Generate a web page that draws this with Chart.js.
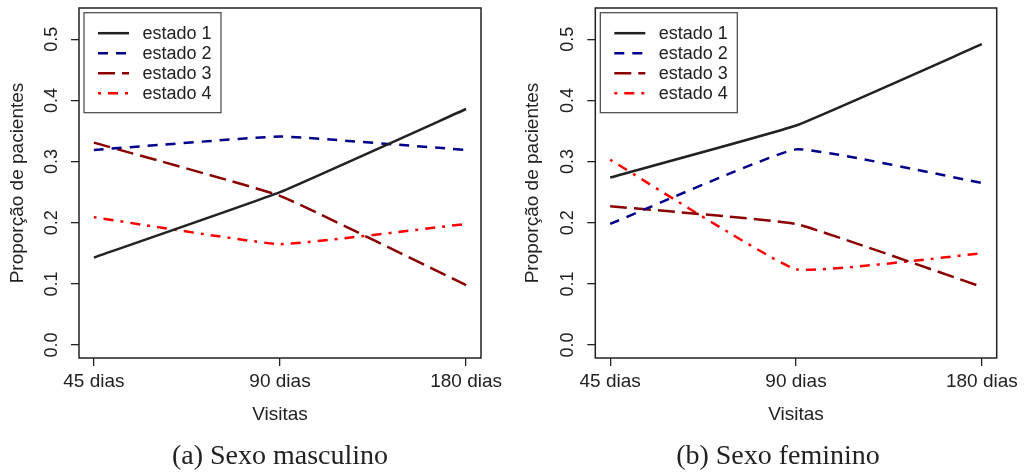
<!DOCTYPE html>
<html>
<head>
<meta charset="utf-8">
<script src="https://cdn.jsdelivr.net/npm/chart.js@4.4.1/dist/chart.umd.min.js"></script>
<style>
body { margin: 0; background: #fff; width: 1027px; height: 473px; overflow: hidden; position: relative; }
.panel { position: absolute; top: 0; height: 473px; }
#p1 { left: 0; width: 513px; }
#p2 { left: 513px; width: 514px; }
.cap { position: absolute; top: 441px; width: 400px; margin-left: -200px; text-align: center;
       font-family: "Liberation Serif", serif; font-size: 28px; line-height: 28px; color: #222; white-space: nowrap; }
</style>
</head>
<body>
<div class="panel" id="p1"><canvas id="chartMasc" width="513" height="473"></canvas></div>
<div class="panel" id="p2"><canvas id="chartFem" width="514" height="473"></canvas></div>
<div class="cap" style="left:280px">(a) Sexo masculino</div>
<div class="cap" style="left:778px">(b) Sexo feminino</div>
<script>
const visitas = ['45 dias', '90 dias', '180 dias'];
const estados = ['estado 1', 'estado 2', 'estado 3', 'estado 4'];
const yTicks = [0.0, 0.1, 0.2, 0.3, 0.4, 0.5];

// sexo masculino
const masc1 = [0.143, 0.250, 0.386];
const masc2 = [0.319, 0.341, 0.319];
const masc3 = [0.331, 0.244, 0.098];
const masc4 = [0.209, 0.165, 0.198];

// sexo feminino
const fem1 = [0.274, 0.359, 0.492];
const fem2 = [0.198, 0.320, 0.265];
const fem3 = [0.227, 0.198, 0.095];
const fem4 = [0.303, 0.124, 0.150];

const cores = ['#222222', '#00008B', '#8B0000', '#FF0000'];
const tracos = [[], [10, 8], [17, 7], [3, 7, 10, 7]];
const texto = '#222';
const fonte = { family: '"Liberation Sans", Arial, sans-serif', size: 19 };

const moldura = {
    id: 'moldura',
    afterDraw(chart) {
        const ctx = chart.ctx;
        const a = chart.chartArea;
        const y = chart.scales.y;
        ctx.save();
        ctx.strokeStyle = '#222';
        ctx.lineWidth = 1.5;
        ctx.strokeRect(a.left, a.top, a.right - a.left, a.bottom - a.top);

        // rótulos do eixo y, paralelos ao eixo como no R
        ctx.fillStyle = texto;
        ctx.font = '18px "Liberation Sans", Arial, sans-serif';
        ctx.textAlign = 'center';
        ctx.textBaseline = 'middle';
        yTicks.forEach(v => {
            ctx.save();
            ctx.translate(a.left - 27, y.getPixelForValue(v));
            ctx.rotate(-Math.PI / 2);
            ctx.fillText(v.toFixed(1), 0, 0);
            ctx.restore();
        });

        // legenda
        const bx = a.left + 5, by = a.top + 4.7;
        ctx.fillStyle = '#fff';
        ctx.fillRect(bx, by, 137, 100);
        ctx.strokeStyle = '#444';
        ctx.lineWidth = 1.2;
        ctx.strokeRect(bx, by, 137, 100);
        chart.data.datasets.forEach((ds, i) => {
            const ly = by + 20.5 + i * 20;
            ctx.strokeStyle = ds.borderColor;
            ctx.lineWidth = 2.5;
            ctx.setLineDash(ds.borderDash);
            ctx.beginPath();
            ctx.moveTo(bx + 14, ly);
            ctx.lineTo(bx + 45, ly);
            ctx.stroke();
            ctx.setLineDash([]);
            ctx.fillStyle = texto;
            ctx.textAlign = 'left';
            ctx.fillText(ds.label, bx + 58.5, ly + 1);
        });
        ctx.restore();
    }
};

function desenhar(id, series, area) {
    new Chart(document.getElementById(id), {
        type: 'line',
        data: {
            datasets: series.map((s, i) => ({
                label: estados[i],
                data: s.map((v, j) => ({ x: j + 1, y: v })),
                borderColor: cores[i],
                borderDash: tracos[i],
                borderWidth: 2.5,
                borderCapStyle: 'butt',
                pointRadius: 0,
                tension: 0.1,
                fill: false
            }))
        },
        options: {
            responsive: false,
            animation: false,
            devicePixelRatio: 1,
            layout: { padding: { top: 8, right: area.right, left: 0, bottom: 0 } },
            plugins: { legend: { display: false }, tooltip: { enabled: false } },
            scales: {
                x: {
                    type: 'linear', min: 0.92, max: 3.08,
                    afterBuildTicks: s => { s.ticks = visitas.map((_, i) => ({ value: i + 1 })); },
                    afterFit: s => { s.height = 115; s.paddingLeft = 0; s.paddingRight = 0; },
                    ticks: { callback: v => visitas[v - 1], font: fonte, color: texto, padding: 4, maxRotation: 0, autoSkip: false },
                    grid: { drawOnChartArea: false, tickLength: 8, color: '#222', lineWidth: 1.3 },
                    border: { display: false },
                    title: { display: true, text: 'Visitas', font: fonte, color: texto, padding: { top: 0, bottom: 46.6 } }
                },
                y: {
                    min: -0.0212, max: 0.5512,
                    afterBuildTicks: s => { s.ticks = yTicks.map(v => ({ value: v })); },
                    afterFit: s => { s.width = area.left; s.paddingTop = 0; s.paddingBottom = 0; },
                    ticks: { display: false },
                    grid: { drawOnChartArea: false, tickLength: 8, color: '#222', lineWidth: 1.3 },
                    border: { display: false },
                    title: { display: true, text: 'Proporção de pacientes', font: fonte, color: texto, padding: { top: area.title, bottom: 0 } }
                }
            }
        },
        plugins: [moldura]
    });
}

desenhar('chartMasc', [masc1, masc2, masc3, masc4], { left: 79, right: 32, title: 6.6 });
desenhar('chartFem', [fem1, fem2, fem3, fem4], { left: 82.3, right: 30.3, title: 8.6 });
</script>
</body>
</html>
